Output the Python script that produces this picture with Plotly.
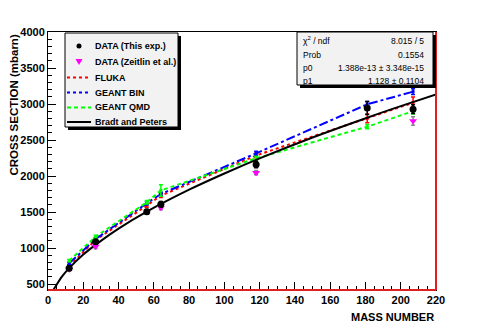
import plotly.graph_objects as go

# ---------------- data ----------------
mass = [12, 27, 56, 64, 118, 181, 207]

this_exp = [718, 1088, 1504, 1607, 2160, 2945, 2928]
this_exp_err = [25, 30, 30, 40, 45, 90, 60]

zeitlin_mass = [12, 27, 64, 118, 207]
zeitlin = [705, 1020, 1560, 2046, 2764]
zeitlin_err = [20, 30, 30, 30, 60]

fluka = [750, 1111, 1590, 1727, 2285, 2801, 3018]
fluka_err = [15, 20, 25, 25, 30, 60, 80]

geant_bin = [787, 1125, 1621, 1750, 2315, 2996, 3171]
geant_bin_err = [15, 20, 25, 25, 30, 40, 40]

geant_qmd = [824, 1157, 1635, 1800, 2246, 2685, 2900]
geant_qmd_err = [15, 20, 25, 80, 30, 30, 40]

bp_mass = [2, 4, 8, 12, 20, 30, 40, 56, 80, 100, 120, 150, 181, 200, 220]
bp_xs = [380, 455, 605, 720, 910, 1100, 1270, 1505, 1810, 2035, 2245, 2535, 2810, 2970, 3132]

stats_names = ["χ<sup>2</sup> / ndf", "Prob", "p0", "p1"]
stats_vals = ["8.015 / 5", "0.1554", "1.388e-13 ± 3.348e-15", "1.128 ± 0.1104"]

legend_names = ["DATA (This exp.)", "DATA (Zeitlin et al.)", "FLUKA",
                "GEANT BIN", "GEANT QMD", "Bradt and Peters"]

# ---------------- geometry ----------------
W, H = 485, 328
L, R, T, B = 48, 49, 32, 38
PW, PH = W - L - R, H - T - B
FONT = "Liberation Sans, Arial, Helvetica, sans-serif"


def px(x):
    return (x - L) / PW


def py(y):
    return (H - B - y) / PH


fig = go.Figure()


def model_trace(y, err, color, dash):
    fig.add_trace(go.Scatter(
        x=mass, y=y, mode="lines+markers",
        line=dict(color=color, width=2, dash=dash),
        marker=dict(symbol="square", size=3, color=color),
        error_y=dict(type="data", array=err, color=color, thickness=1.5, width=2),
        showlegend=False, hoverinfo="skip"))


model_trace(fluka, fluka_err, "#ff0000", "dot")
model_trace(geant_bin, geant_bin_err, "#0000ff", "dashdot")
model_trace(geant_qmd, geant_qmd_err, "#00ff00", "4px,3px")

fig.add_trace(go.Scatter(
    x=bp_mass, y=bp_xs, mode="lines", line=dict(color="black", width=2, shape="spline"),
    showlegend=False, hoverinfo="skip"))

fig.add_trace(go.Scatter(
    x=zeitlin_mass, y=zeitlin, mode="markers",
    marker=dict(symbol="triangle-down", size=7, color="#ff00ff"),
    error_y=dict(type="data", array=zeitlin_err, color="#888888", thickness=1.5, width=2),
    showlegend=False, hoverinfo="skip"))

fig.add_trace(go.Scatter(
    x=mass, y=this_exp, mode="markers",
    marker=dict(symbol="circle", size=7, color="black"),
    error_y=dict(type="data", array=this_exp_err, color="black", thickness=1.5, width=2),
    showlegend=False, hoverinfo="skip"))

shapes = []
annotations = []

# red frame lines (bottom and right)
shapes.append(dict(type="line", xref="paper", yref="paper", x0=0, x1=1, y0=0, y1=0,
                   line=dict(color="#e02020", width=2)))
shapes.append(dict(type="line", xref="paper", yref="paper", x0=1, x1=1, y0=0, y1=1,
                   line=dict(color="#e02020", width=2)))


def box(x0, y0, x1, y1):
    # shadow
    shapes.append(dict(type="rect", xref="paper", yref="paper",
                       x0=px(x0 + 3), x1=px(x1 + 3), y0=py(y1 + 3), y1=py(y0 + 3),
                       fillcolor="black", line=dict(width=0)))
    shapes.append(dict(type="rect", xref="paper", yref="paper",
                       x0=px(x0), x1=px(x1), y0=py(y1), y1=py(y0),
                       fillcolor="#f2f2f2", line=dict(color="black", width=1)))


# legend box
box(65, 33, 178, 127)
rows = [46, 62, 77.5, 92.5, 107.5, 122]
# markers
shapes.append(dict(type="circle", xref="paper", yref="paper",
                   x0=px(76.5), x1=px(81.5), y0=py(rows[0] + 2.5), y1=py(rows[0] - 2.5),
                   fillcolor="black", line=dict(color="black", width=0)))
r1 = rows[1]
shapes.append(dict(type="path", xref="paper", yref="paper",
                   path=f"M {px(75.5)} {py(r1 - 3)} L {px(82.5)} {py(r1 - 3)} L {px(79)} {py(r1 + 3)} Z",
                   fillcolor="#ff00ff", line=dict(color="#ff00ff", width=0)))
for r, col, dash in [(rows[2], "#ff0000", "dot"), (rows[3], "#0000ff", "dot"),
                     (rows[4], "#00ff00", "4px,3px"), (rows[5], "black", "solid")]:
    shapes.append(dict(type="line", xref="paper", yref="paper",
                       x0=px(67), x1=px(91), y0=py(r), y1=py(r),
                       line=dict(color=col, width=2, dash=dash)))
for r, name in zip(rows, legend_names):
    annotations.append(dict(xref="paper", yref="paper", x=px(93), y=py(r), text=name,
                            showarrow=False, xanchor="left", yanchor="middle",
                            font=dict(family=FONT, size=9, color="black", weight="bold")))

# stats box
box(297, 32, 433, 85)
srows = [41, 54.5, 67.5, 80.5]
for r, n, v in zip(srows, stats_names, stats_vals):
    annotations.append(dict(xref="paper", yref="paper", x=px(301), y=py(r), text=n,
                            showarrow=False, xanchor="left", yanchor="middle",
                            font=dict(family=FONT, size=8.5, color="black")))
    annotations.append(dict(xref="paper", yref="paper", x=px(426), y=py(r), text=v,
                            showarrow=False, xanchor="right", yanchor="middle",
                            font=dict(family=FONT, size=8.5, color="black")))

# axis titles
annotations.append(dict(xref="paper", yref="paper", x=px(13), y=py(33), text="CROSS SECTION (mbarn)",
                        textangle=-90, showarrow=False, xanchor="center", yanchor="top",
                        font=dict(family=FONT, size=11.5, color="black", weight="bold")))
annotations.append(dict(xref="paper", yref="paper", x=px(436), y=py(317), text="MASS NUMBER",
                        showarrow=False, xanchor="right", yanchor="middle",
                        font=dict(family=FONT, size=11, color="black", weight="bold")))

axis_common = dict(showgrid=False, zeroline=False, showline=True, linecolor="black",
                   linewidth=1, mirror=True, ticks="inside", tickcolor="black",
                   tickfont=dict(family=FONT, size=11, color="black", weight="bold"))

fig.update_layout(
    width=W, height=H,
    margin=dict(l=L, r=R, t=T, b=B),
    paper_bgcolor="white", plot_bgcolor="white",
    showlegend=False,
    xaxis=dict(range=[0, 220], tick0=0, dtick=20, ticklen=8,
               minor=dict(dtick=5, ticklen=4, ticks="inside", tickcolor="black"),
               **axis_common),
    yaxis=dict(range=[417, 4000], tick0=0, dtick=500, ticklen=8,
               minor=dict(dtick=100, ticklen=4, ticks="inside", tickcolor="black"),
               **axis_common),
    shapes=shapes, annotations=annotations,
)

fig.write_html("out.html", config={"displayModeBar": False},
               post_script="document.body.style.margin='0px';document.body.style.overflow='hidden';")
